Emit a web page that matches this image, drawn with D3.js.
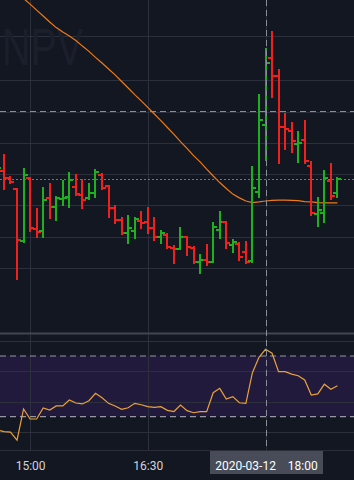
<!DOCTYPE html>
<html><head><meta charset="utf-8">
<script src="https://cdn.jsdelivr.net/npm/d3@7"></script>
<style>html,body{margin:0;padding:0;background:#131722;overflow:hidden}</style>
</head><body><svg id="c" width="354" height="480"></svg>
<script>
const day = "2020-03-12";
const times = ["14:35","14:40","14:45","14:50","14:55","15:00","15:05","15:10","15:15","15:20","15:25","15:30","15:35","15:40","15:45","15:50","15:55","16:00","16:05","16:10","16:15","16:20","16:25","16:30","16:35","16:40","16:45","16:50","16:55","17:00","17:05","17:10","17:15","17:20","17:25","17:30","17:35","17:40","17:45","17:50","17:55","18:00","18:05","18:10","18:15","18:20","18:25","18:30","18:35","18:40","18:45","18:50","18:55"];
const open  = [10.297,10.310,10.288,10.252,10.086,10.288,10.125,10.118,10.224,10.195,10.220,10.227,10.259,10.233,10.224,10.240,10.297,10.262,10.192,10.153,10.112,10.118,10.150,10.147,10.128,10.099,10.105,10.064,10.061,10.099,10.064,10.019,10.026,10.019,10.121,10.147,10.073,10.077,10.051,10.022,10.243,10.457,10.671,10.613,10.450,10.438,10.396,10.409,10.326,10.173,10.176,10.278,10.240];
const high  = [10.335,10.361,10.291,10.252,10.316,10.288,10.188,10.256,10.268,10.227,10.278,10.304,10.297,10.281,10.268,10.313,10.300,10.262,10.198,10.160,10.166,10.160,10.179,10.192,10.160,10.118,10.109,10.070,10.128,10.099,10.067,10.042,10.073,10.144,10.179,10.147,10.089,10.080,10.083,10.323,10.553,10.700,10.754,10.633,10.492,10.463,10.435,10.470,10.339,10.224,10.310,10.332,10.288];
const low   = [10.288,10.252,10.272,9.965,10.083,10.118,10.099,10.099,10.160,10.153,10.201,10.195,10.233,10.192,10.219,10.227,10.252,10.163,10.144,10.109,10.080,10.096,10.128,10.112,10.089,10.080,10.064,10.016,10.061,10.042,10.016,9.984,10.010,10.019,10.096,10.064,10.051,10.026,10.016,10.019,10.227,10.345,10.546,10.335,10.380,10.371,10.339,10.335,10.169,10.134,10.147,10.220,10.227];
const close = [10.319,10.286,10.275,10.089,10.297,10.128,10.115,10.217,10.195,10.224,10.225,10.281,10.236,10.217,10.240,10.307,10.256,10.192,10.153,10.112,10.128,10.157,10.144,10.128,10.099,10.112,10.067,10.061,10.099,10.067,10.019,10.026,10.019,10.131,10.147,10.080,10.083,10.035,10.019,10.256,10.473,10.655,10.613,10.450,10.444,10.406,10.399,10.342,10.176,10.185,10.288,10.230,10.284];
const ma    = [10.93,10.914,10.896,10.879,10.861,10.843,10.824,10.805,10.786,10.768,10.754,10.741,10.727,10.709,10.692,10.673,10.655,10.636,10.617,10.596,10.575,10.554,10.534,10.513,10.492,10.471,10.449,10.427,10.404,10.382,10.359,10.339,10.316,10.294,10.273,10.254,10.236,10.224,10.214,10.209,10.211,10.214,10.216,10.217,10.217,10.216,10.215,10.212,10.211,10.209,10.208,10.208,10.208];
const rsi   = [21.2,20.2,19.9,14.6,35.1,28.5,28.5,35.7,34.4,37.1,37.1,41.0,39.0,38.4,40.5,45.4,42.5,38.8,37.1,34.9,35.9,38.8,37.9,36.6,36.2,36.6,34.2,33.4,37.7,34.0,32.6,33.3,33.3,45.8,48.7,41.7,43.2,39.2,38.8,59.0,69.1,74.4,71.8,59.7,59.7,58.1,57.0,54.2,44.3,45.0,51.4,48.1,50.4];
const timeTicks = ["15:00","16:30","18:00"];
const timeLabels = ["15:00","16:30"];
const priceTicks = [10.0,10.1,10.2,10.3,10.4,10.5,10.6,10.74];
const rsiTicks = [20,40,60,80];
const rsiBands = [30,70];
const crossTime = "18:00";
const crossPrice = 10.503;
const crossLabel = "2020-03-12    18:00";
const watermark = "NPV";

const W = 354, H = 480;
const priceBottom = 332, rsiTop = 335, rsiBottom = 450;
const svg = d3.select("#c");
const parse = d3.timeParse("%Y-%m-%d %H:%M");
const dates = times.map(t => parse(day + " " + t));
const x = d3.scaleTime().domain([parse(day+" 15:00"), parse(day+" 16:30")]).range([30.1, 147.8]);
const y = d3.scaleLinear().domain([10.0, 10.6]).range([268, 268 - 0.6*313]);
const yr = d3.scaleLinear().domain([30, 70]).range([416.7, 356]);

const UP = "#1fb01f", DOWN = "#f2201d", GRID = "#2c303c", CROSS = "#8a8e99";

svg.append("rect").attr("width", W).attr("height", H).attr("fill", "#131722");

const defs = svg.append("defs");
defs.append("clipPath").attr("id","pc").append("rect").attr("x",0).attr("y",0).attr("width",W).attr("height",priceBottom);
defs.append("clipPath").attr("id","rc").append("rect").attr("x",0).attr("y",rsiTop).attr("width",W).attr("height",rsiBottom-rsiTop);

// RSI band
svg.append("rect").attr("x",0).attr("width",W)
  .attr("y", yr(rsiBands[1])).attr("height", yr(rsiBands[0]) - yr(rsiBands[1]))
  .attr("fill", "#221a3c");

// price grid
const pg = svg.append("g").attr("clip-path","url(#pc)")
  .call(d3.axisRight(y).tickValues(priceTicks).tickSize(W).tickFormat(""));
pg.select(".domain").remove();
pg.selectAll("line").attr("stroke", GRID).attr("shape-rendering","crispEdges");

// rsi grid
const rg = svg.append("g")
  .call(d3.axisRight(yr).tickValues(rsiTicks).tickSize(W).tickFormat(""));
rg.select(".domain").remove();
rg.selectAll("line").attr("stroke", GRID).attr("shape-rendering","crispEdges");

// time grid
const tickDates = timeTicks.map(t => parse(day + " " + t));
const tg = svg.append("g")
  .call(d3.axisBottom(x).tickValues(tickDates).tickSize(rsiBottom).tickFormat(""));
tg.select(".domain").remove();
tg.selectAll("line").attr("stroke", GRID).attr("shape-rendering","crispEdges");

// watermark
svg.append("text").attr("x", 2).attr("y", 65).text(watermark)
  .attr("font-family","Liberation Sans, Arial, sans-serif").attr("font-size", 52)
  .attr("textLength", 81).attr("lengthAdjust","spacingAndGlyphs")
  .attr("fill", "#1b1f2c");

// pane separators
svg.append("line").attr("x1",0).attr("x2",W).attr("y1",333.5).attr("y2",333.5)
  .attr("stroke","#434651").attr("stroke-width",2);
svg.append("line").attr("x1",0).attr("x2",W).attr("y1",450.5).attr("y2",450.5)
  .attr("stroke","#2a2e39").attr("stroke-width",1);

const pricePane = svg.append("g").attr("clip-path","url(#pc)");

// MA line
pricePane.append("path")
  .datum(dates.map((d,i) => [d, ma[i]]))
  .attr("d", d3.line().x(d => x(d[0])).y(d => y(d[1])))
  .attr("fill","none").attr("stroke","#f07a14").attr("stroke-width",1.2);

// last price line
const ly = Math.round(y(close[close.length-1]))+0.5;
pricePane.append("line").attr("x1",0).attr("x2",W).attr("y1", ly).attr("y2", ly)
  .attr("stroke", UP).attr("stroke-width",1).attr("stroke-dasharray","2,2");

// OHLC bars
const bars = pricePane.append("g").attr("shape-rendering","crispEdges");
dates.forEach((d,i) => {
  const cx = Math.round(x(d));
  const col = close[i] >= open[i] ? UP : DOWN;
  const g = bars.append("g").attr("stroke", col).attr("stroke-width", 2);
  g.append("line").attr("x1",cx).attr("x2",cx).attr("y1",y(high[i])-1).attr("y2",y(low[i])+1);
  g.append("line").attr("x1",cx-4).attr("x2",cx).attr("y1",y(open[i])).attr("y2",y(open[i]));
  g.append("line").attr("x1",cx).attr("x2",cx+4).attr("y1",y(close[i])).attr("y2",y(close[i]));
});

// RSI dashed levels
rsiBands.forEach(v => {
  svg.append("line").attr("x1",0).attr("x2",W).attr("y1",yr(v)).attr("y2",yr(v))
    .attr("stroke","#9598a1").attr("stroke-width",1.2).attr("stroke-dasharray","6,4");
});

// RSI line
svg.append("g").attr("clip-path","url(#rc)").append("path")
  .datum(dates.map((d,i) => [d, rsi[i]]))
  .attr("d", d3.line().x(d => x(d[0])).y(d => yr(d[1])))
  .attr("fill","none").attr("stroke","#e9a23b").attr("stroke-width",1.2);

// crosshair
const cxDate = parse(day + " " + crossTime);
const chx = Math.round(x(cxDate)) + 0.5;
svg.append("line").attr("x1",chx).attr("x2",chx).attr("y1",0).attr("y2",rsiBottom)
  .attr("stroke",CROSS).attr("stroke-width",1).attr("stroke-dasharray","6,4");
const hy = Math.round(y(crossPrice))+0.5;
svg.append("line").attr("x1",0).attr("x2",W).attr("y1",hy).attr("y2",hy)
  .attr("stroke",CROSS).attr("stroke-width",1).attr("stroke-dasharray","6,4");

// time labels (the 18:00 label is covered by the crosshair label)
const ta = svg.append("g").attr("transform", `translate(0,${rsiBottom})`)
  .call(d3.axisBottom(x).tickValues(timeLabels.map(t => parse(day + " " + t))).tickSize(0).tickFormat(d3.timeFormat("%H:%M")));
ta.select(".domain").remove();
ta.selectAll("text").attr("y", 20).attr("dy", null)
  .attr("font-family","Roboto, sans-serif").attr("font-size",12).attr("fill","#d1d4dc");

// crosshair label
svg.append("rect").attr("x", chx - 56.5).attr("y", 451).attr("width", 113).attr("height", 23)
  .attr("fill", "#474c58");
svg.append("text").attr("x", chx).attr("y", 470).attr("text-anchor","middle")
  .attr("xml:space","preserve").style("white-space","pre")
  .attr("font-family","Roboto, sans-serif").attr("font-size",12).attr("fill","#ffffff")
  .text(crossLabel);
</script></body></html>
